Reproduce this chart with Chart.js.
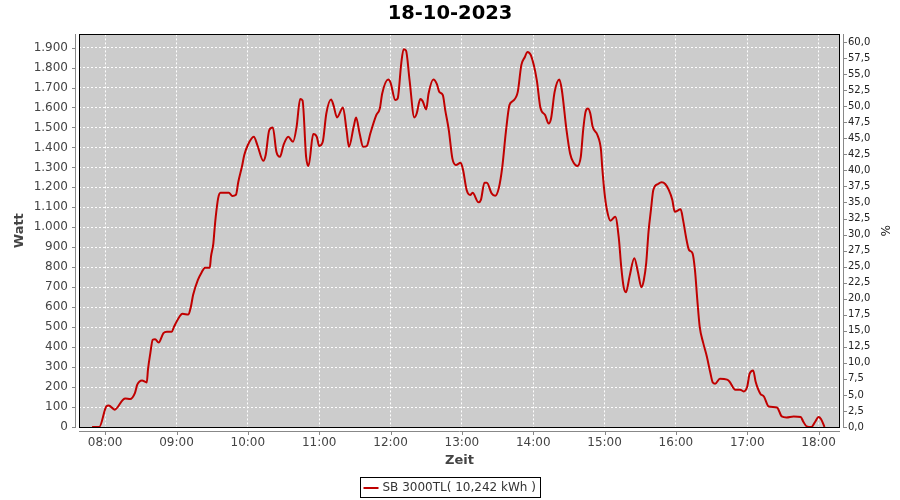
<!DOCTYPE html>
<html lang="de">
<head>
<meta charset="utf-8">
<title>18-10-2023</title>
<script src="https://cdn.jsdelivr.net/npm/chart.js@4.4.0/dist/chart.umd.min.js"></script>
<style>
    html, body { margin: 0; padding: 0; background: #ffffff; }
    #wrap { width: 900px; height: 500px; }
</style>
</head>
<body>
<div id="wrap"><canvas id="chart" width="900" height="500"></canvas></div>
<script>
// Chart texts.
const TITLE        = "18-10-2023";
const SERIES_LABEL = "SB 3000TL( 10,242 kWh )";

const TIMES = [
    "07:49","07:55","08:01","08:03","08:08","08:15","08:17","08:21","08:25","08:27",
    "08:31","08:35","08:36","08:38","08:40","08:42","08:45","08:49","08:52","08:56",
    "08:58","09:03","09:05","09:10","09:12","09:14","09:18","09:21","09:24","09:28",
    "09:29","09:31","09:32","09:33","09:35","09:37","09:44","09:47","09:50","09:52",
    "09:55","09:57","10:00","10:05","10:08","10:13","10:15","10:18","10:21","10:24",
    "10:27","10:30","10:34","10:38","10:41","10:44","10:46","10:49","10:51","10:55",
    "10:58","11:00","11:03","11:06","11:10","11:12","11:15","11:20","11:23","11:25",
    "11:29","11:31","11:34","11:37","11:40","11:43","11:48","11:51","11:53","11:58",
    "12:00","12:04","12:06","12:09","12:11","12:13","12:16","12:20","12:22","12:25",
    "12:27","12:30","12:32","12:36","12:39","12:41","12:44","12:46","12:49","12:52",
    "12:55","12:59","13:01","13:04","13:07","13:09","13:14","13:16","13:19","13:21",
    "13:25","13:28","13:31","13:34","13:37","13:40","13:43","13:47","13:50","13:53",
    "13:55","13:58","14:03","14:06","14:10","14:13","14:15","14:18","14:22","14:24",
    "14:28","14:31","14:34","14:37","14:40","14:42","14:44","14:46","14:48","14:50",
    "14:54","14:57","14:58","15:00","15:02","15:05","15:09","15:12","15:14","15:16",
    "15:18","15:21","15:25","15:28","15:31","15:33","15:35","15:37","15:39","15:41",
    "15:45","15:48","15:51","15:54","15:57","15:59","16:04","16:06","16:09","16:11",
    "16:14","16:16","16:18","16:20","16:23","16:26","16:29","16:31","16:33","16:37",
    "16:43","16:45","16:50","16:54","16:57","17:00","17:02","17:05","17:07","17:11",
    "17:14","17:18","17:25","17:29","17:33","17:39","17:45","17:47","17:50","17:54",
    "17:57","18:00","18:02","18:05"
];
const WATT = [
       0,   0, 103, 108,  87, 137, 143, 140, 170, 212,
     233, 223, 287, 370, 437, 440, 423, 470, 477, 477,
     503, 557, 567, 563, 600, 662, 737, 773, 798, 798,
     853, 920, 990,1053,1145,1173,1173,1157,1163,1228,
    1303,1362,1412,1453,1412,1333,1362,1487,1500,1378,
    1353,1412,1453,1428,1503,1642,1635,1353,1307,1467,
    1453,1407,1428,1570,1640,1612,1550,1600,1487,1403,
    1503,1550,1470,1403,1407,1470,1562,1595,1670,1740,
    1725,1637,1645,1820,1892,1885,1737,1550,1570,1642,
    1632,1590,1670,1740,1717,1678,1662,1587,1487,1345,
    1312,1323,1287,1187,1162,1173,1125,1137,1223,1223,
    1170,1158,1195,1303,1478,1612,1633,1678,1812,1853,
    1878,1862,1737,1600,1562,1520,1545,1678,1740,1690,
    1487,1370,1323,1307,1353,1487,1578,1595,1570,1503,
    1462,1387,1303,1170,1087,1033,1053, 945, 803, 703,
     675, 753, 845, 778, 700, 735, 820, 980,1087,1187,
    1217,1225,1217,1187,1137,1078,1090,1037, 935, 887,
     870, 787, 637, 503, 420, 353, 270, 223, 217, 242,
     237, 228, 187, 187, 178, 203, 267, 283, 228, 167,
     153, 103,  98,  53,  48,  53,  50,  28,   3,   0,
      25,  50,  40,   0
];

// Tick labels.
const TIME_TICKS    = ["08:00","09:00","10:00","11:00","12:00","13:00","14:00","15:00","16:00","17:00","18:00"];
const WATT_TICKS    = [0,100,200,300,400,500,600,700,800,900,1000,1100,1200,1300,1400,1500,1600,1700,1800,1900];
const PERCENT_TICKS = [0,2.5,5,7.5,10,12.5,15,17.5,20,22.5,25,27.5,30,32.5,35,37.5,40,42.5,45,47.5,50,52.5,55,57.5,60];

// Colours.
const LINE_RED   = "#c00000";
const PLOT_GREY  = "#cccccc";
const AXIS_GREY  = "#888888";
const LABEL_GREY = "#444444";

Chart.defaults.font.family = "'DejaVu Sans', sans-serif";

function to_minutes (hhmm) {
    const [h, m] = hhmm.split(":").map(Number);
    return h * 60 + m;
}

function fmt_time (minutes) {
    const h = Math.floor(minutes / 60);
    const m = Math.round(minutes % 60);
    return String(h).padStart(2, "0") + ":" + String(m).padStart(2, "0");
}

function fmt_thousands (v) {
    // German style "1.900"
    return String(v).replace(/\B(?=(\d{3})+(?!\d))/g, ".");
}

// Draws the grey plot background, the black frame, the offset axis lines and the boxed legend.
const plotFrame = {
    id: "plotFrame",
    beforeDraw (chart) {
        const { ctx, chartArea: a } = chart;
        ctx.save();
        ctx.fillStyle = PLOT_GREY;
        ctx.fillRect(a.left, a.top, a.right - a.left, a.bottom - a.top);
        ctx.restore();
    },
    afterDraw (chart) {
        const { ctx, chartArea: a } = chart;
        const L = Math.round(a.left), R = Math.round(a.right);
        const T = Math.round(a.top),  B = Math.round(a.bottom);

        ctx.save();

        // Plot outline.
        ctx.strokeStyle = "#000000";
        ctx.lineWidth = 1;
        ctx.strokeRect(L + 0.5, T + 0.5, R - L - 1, B - T);

        // Axis lines, a few pixels away from the plot.
        ctx.strokeStyle = AXIS_GREY;
        ctx.beginPath();
        ctx.moveTo(L - 3.5, T); ctx.lineTo(L - 3.5, B + 1);
        ctx.moveTo(R + 3.5, T); ctx.lineTo(R + 3.5, B + 1);
        ctx.moveTo(L, B + 4.5); ctx.lineTo(R, B + 4.5);

        // Tick marks.
        const y = chart.scales.y, y2 = chart.scales.y2, x = chart.scales.x;
        y.ticks.forEach(t => {
            const py = Math.round(y.getPixelForValue(t.value)) + 0.5;
            ctx.moveTo(L - 7, py); ctx.lineTo(L - 3, py);
        });
        y2.ticks.forEach(t => {
            const py = Math.round(y2.getPixelForValue(t.value)) + 0.5;
            ctx.moveTo(R + 3, py); ctx.lineTo(R + 7, py);
        });
        x.ticks.forEach(t => {
            const px = Math.round(x.getPixelForValue(t.value)) + 0.5;
            ctx.moveTo(px, B + 4); ctx.lineTo(px, B + 8);
        });
        ctx.stroke();

        // Legend box at the bottom.
        ctx.font = "12px 'DejaVu Sans'";
        const textW = ctx.measureText(SERIES_LABEL).width;
        const boxW = Math.round(3 + 15 + 4 + textW + 5);
        const boxX = Math.round(chart.width / 2 - boxW / 2) + 0.5;
        const boxY = 477.5;
        ctx.strokeStyle = "#000000";
        ctx.strokeRect(boxX, boxY, boxW, 20);

        ctx.strokeStyle = LINE_RED;
        ctx.lineWidth = 2;
        ctx.beginPath();
        ctx.moveTo(boxX + 3, boxY + 10.5);
        ctx.lineTo(boxX + 18, boxY + 10.5);
        ctx.stroke();

        ctx.fillStyle = "#333333";
        ctx.textBaseline = "middle";
        ctx.textAlign = "left";
        ctx.fillText(SERIES_LABEL, boxX + 22, boxY + 10.5);

        ctx.restore();
    }
};

const points = TIMES.map((t, i) => ({ x: to_minutes(t), y: WATT[i] }));

new Chart(document.getElementById("chart"), {
    type: "line",
    data: {
        datasets: [{
            label: SERIES_LABEL,
            data: points,
            borderColor: LINE_RED,
            borderWidth: 2,
            pointRadius: 0,
            cubicInterpolationMode: "monotone",
            yAxisID: "y",
            clip: 3
        }]
    },
    options: {
        responsive: false,
        animation: false,
        events: [],
        layout: { padding: { left: 0, right: 0, top: 0, bottom: 30 } },
        plugins: {
            legend: { display: false },
            tooltip: { enabled: false },
            title: {
                display: true,
                text: TITLE,
                color: "#000000",
                font: { size: 19.5, weight: "bold" },
                padding: { top: 2, bottom: 9 }
            }
        },
        scales: {
            x: {
                type: "linear",
                min: to_minutes("07:38"),
                max: to_minutes("18:18"),
                afterFit: s => { s.height = 43; },
                afterBuildTicks: s => { s.ticks = TIME_TICKS.map(t => ({ value: to_minutes(t) })); },
                ticks: {
                    callback: v => fmt_time(v),
                    padding: 9,
                    color: LABEL_GREY,
                    font: { size: 12 },
                    maxRotation: 0,
                    autoSkip: false
                },
                grid: { color: "#ffffff", drawTicks: false },
                border: { display: false, dash: [2, 2] },
                title: {
                    display: true,
                    text: "Zeit",
                    color: LABEL_GREY,
                    font: { size: 13, weight: "bold" },
                    padding: { top: 0, bottom: 2 }
                }
            },
            y: {
                position: "left",
                min: 0,
                max: 1966,
                afterFit: s => { s.width = 79; },
                afterBuildTicks: s => { s.ticks = WATT_TICKS.map(v => ({ value: v })); },
                ticks: {
                    callback: v => fmt_thousands(v),
                    padding: 11,
                    color: LABEL_GREY,
                    font: { size: 12 },
                    autoSkip: false
                },
                grid: { color: "#ffffff", drawTicks: false },
                border: { display: false, dash: [2, 2] },
                title: {
                    display: true,
                    text: "Watt",
                    color: LABEL_GREY,
                    font: { size: 13, weight: "bold" },
                    padding: { top: 12, bottom: 0 }
                }
            },
            y2: {
                position: "right",
                min: 0,
                max: 61.2,
                afterFit: s => { s.width = 60; },
                afterBuildTicks: s => { s.ticks = PERCENT_TICKS.map(v => ({ value: v })); },
                ticks: {
                    callback: v => v.toFixed(1).replace(".", ","),
                    padding: 8,
                    color: "#222222",
                    font: { size: 10 },
                    autoSkip: false
                },
                grid: { drawOnChartArea: false, drawTicks: false },
                border: { display: false },
                title: {
                    display: true,
                    text: "%",
                    color: "#222222",
                    font: { size: 12 },
                    padding: { top: 9, bottom: 0 }
                }
            }
        }
    },
    plugins: [plotFrame]
});
</script>
</body>
</html>
